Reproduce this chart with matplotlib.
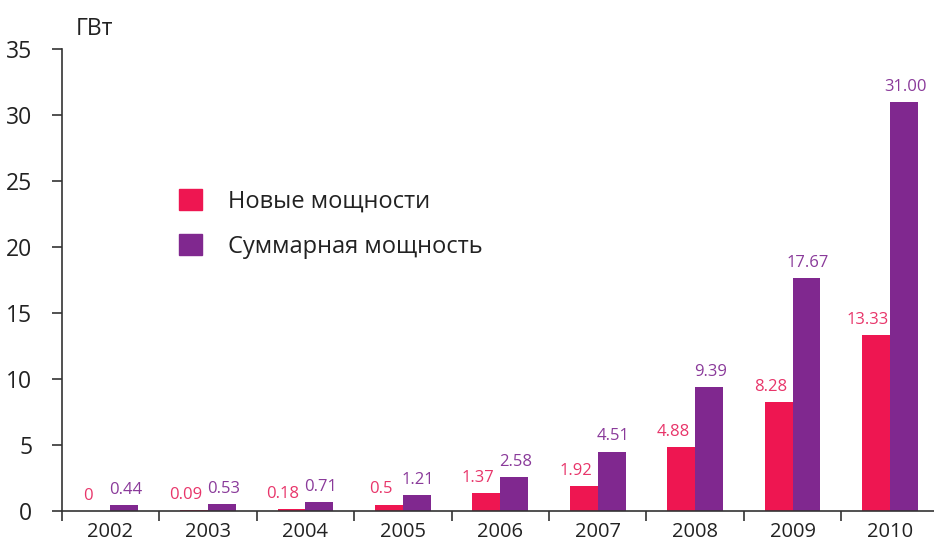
import matplotlib.pyplot as plt
from matplotlib.patches import Patch
from matplotlib.ticker import FixedLocator
import numpy as np

plt.rcParams['font.family'] = ['Open Sans', 'DejaVu Sans']

years = ['2002', '2003', '2004', '2005', '2006', '2007', '2008', '2009', '2010']
new_cap = [0, 0.09, 0.18, 0.5, 1.37, 1.92, 4.88, 8.28, 13.33]
total_cap = [0.44, 0.53, 0.71, 1.21, 2.58, 4.51, 9.39, 17.67, 31.00]
new_labels = ['0', '0.09', '0.18', '0.5', '1.37', '1.92', '4.88', '8.28', '13.33']
total_labels = ['0.44', '0.53', '0.71', '1.21', '2.58', '4.51', '9.39', '17.67', '31.00']

red = '#ee1651'
purple = '#80288f'
red_txt = '#e8356a'
purple_txt = '#8a3a9a'
axis_col = '#333333'

fig = plt.figure(figsize=(9.34, 5.42), dpi=100)
ax = fig.add_axes([0.066, 0.057, 0.934, 0.853])

x = np.arange(len(years))
w = 0.285
ax.bar(x - w / 2, new_cap, w, color=red)
ax.bar(x + w / 2, total_cap, w, color=purple)

for i in range(len(years)):
    ax.annotate(new_labels[i], (x[i] - w / 2, new_cap[i]), xytext=(-6, 8),
                textcoords='offset points', ha='center', va='baseline',
                color=red_txt, fontsize=12)
    ax.annotate(total_labels[i], (x[i] + w / 2, total_cap[i]), xytext=(1, 8),
                textcoords='offset points', ha='center', va='baseline',
                color=purple_txt, fontsize=12)

ax.set_xlim(-0.5, 8.45)
ax.set_ylim(0, 35)
ax.set_yticks(range(0, 36, 5))
ax.tick_params(axis='y', direction='out', length=7, width=1.2, color=axis_col,
               labelsize=16.5, pad=14, labelcolor='#222222')
ax.set_xticks(x)
ax.set_xticklabels(years)
ax.xaxis.set_minor_locator(FixedLocator(np.arange(-0.5, 8.0, 1.0)))
ax.tick_params(axis='x', which='major', length=0, pad=8, labelsize=14.5,
               labelcolor='#222222')
ax.tick_params(axis='x', which='minor', direction='out', length=7, width=1.2,
               color=axis_col)

for s in ['top', 'right']:
    ax.spines[s].set_visible(False)
for s in ['left', 'bottom']:
    ax.spines[s].set_color(axis_col)
    ax.spines[s].set_linewidth(1.2)

fig.text(0.081, 0.947, 'ГВт', fontsize=16.5, color='#222222', va='center', ha='left')

handles = [Patch(color=red, label='Новые мощности'),
           Patch(color=purple, label='Суммарная мощность')]
ax.legend(handles=handles, loc='upper left', bbox_to_anchor=(0.11, 0.742),
          frameon=False, fontsize=17, handlelength=1.0, handleheight=1.0,
          handletextpad=1.1, labelspacing=0.85, labelcolor='#222222')

fig.savefig('out.png', dpi=100)
